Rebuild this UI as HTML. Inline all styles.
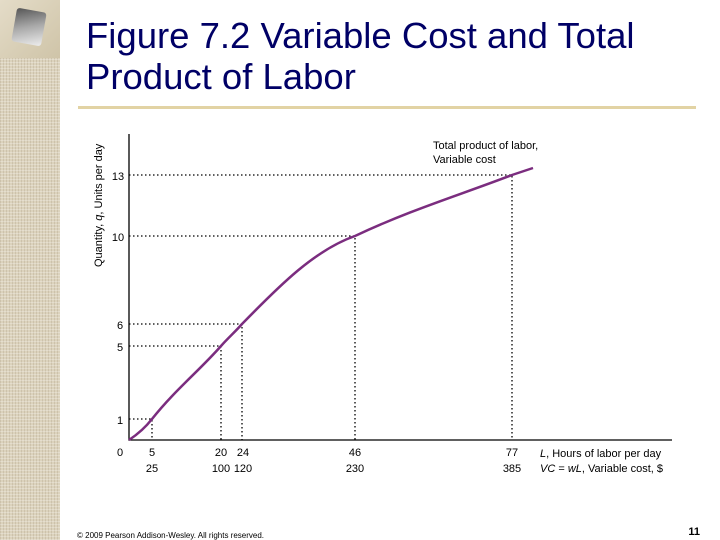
<!DOCTYPE html>
<html><head><meta charset="utf-8"><style>
body{margin:0;width:720px;height:540px;background:#fff;position:relative;overflow:hidden;font-family:"Liberation Sans",sans-serif}
.strip{position:absolute;left:0;top:0;width:60px;height:540px;background:#dcd3bd;
background-image:repeating-linear-gradient(0deg,rgba(255,255,255,.25) 0 1px,transparent 1px 3px),repeating-linear-gradient(90deg,rgba(120,100,70,.15) 0 1px,transparent 1px 3px)}
.photo{position:absolute;left:0;top:0;width:60px;height:58px;background:linear-gradient(135deg,#e4dcc8,#cfc4a8)}
.cube{position:absolute;left:14px;top:10px;width:30px;height:34px;background:linear-gradient(160deg,#555,#aaa 50%,#eee);transform:rotate(10deg);border-radius:3px}
.title{position:absolute;left:86px;top:15px;font-size:36.5px;line-height:41px;color:#000066}
.rule{position:absolute;left:78px;top:106px;width:618px;height:3px;background:#e2d3a4}
</style></head><body>
<div class="strip"></div><div class="photo"><div class="cube"></div></div>
<div class="title">Figure 7.2 Variable Cost and Total<br>Product of Labor</div>
<div class="rule"></div>
<svg width="720" height="540" style="position:absolute;left:0;top:0" font-family="Liberation Sans, sans-serif">
<g stroke="#000" stroke-width="1.3" stroke-dasharray="1.5,2.5" fill="none">
<path d="M129 175H512V440 M129 236H355V440 M129 324H242V440 M129 346H221V440 M129 419H152V440"/>
</g>
<path d="M129 134V440H672" stroke="#000" stroke-width="1.3" fill="none"/>
<path d="M129 440 C138 434,145 428,152 419 C175 390,200 370,221 346 C228 338,236 331,242 324 C280 285,315 250,355 236 C410 210,460 195,512 175 L533 168" stroke="#7b2d7f" stroke-width="2.5" fill="none"/>
<g font-size="11" fill="#000" text-anchor="middle">
<text x="118" y="180">13</text><text x="118" y="241">10</text><text x="120" y="329">6</text><text x="120" y="351">5</text><text x="120" y="424">1</text>
<text x="120" y="456">0</text><text x="152" y="456">5</text><text x="221" y="456">20</text><text x="243" y="456">24</text><text x="355" y="456">46</text><text x="512" y="456">77</text>
<text x="152" y="472">25</text><text x="221" y="472">100</text><text x="243" y="472">120</text><text x="355" y="472">230</text><text x="512" y="472">385</text>
</g>
<text transform="translate(102,267) rotate(-90)" font-size="11" text-anchor="start">Quantity, <tspan font-style="italic">q</tspan>, Units per day</text>
<text x="433" y="149" font-size="11">Total product of labor,</text>
<text x="433" y="163" font-size="11">Variable cost</text>
<text x="540" y="457" font-size="11"><tspan font-style="italic">L</tspan>, Hours of labor per day</text>
<text x="540" y="472" font-size="11"><tspan font-style="italic">VC</tspan> = <tspan font-style="italic">wL</tspan>, Variable cost, $</text>
<text x="77" y="538" font-size="8">© 2009 Pearson Addison-Wesley. All rights reserved.</text>
<text x="700" y="535" font-size="11" font-weight="bold" text-anchor="end">11</text>
</svg>
</body></html>
